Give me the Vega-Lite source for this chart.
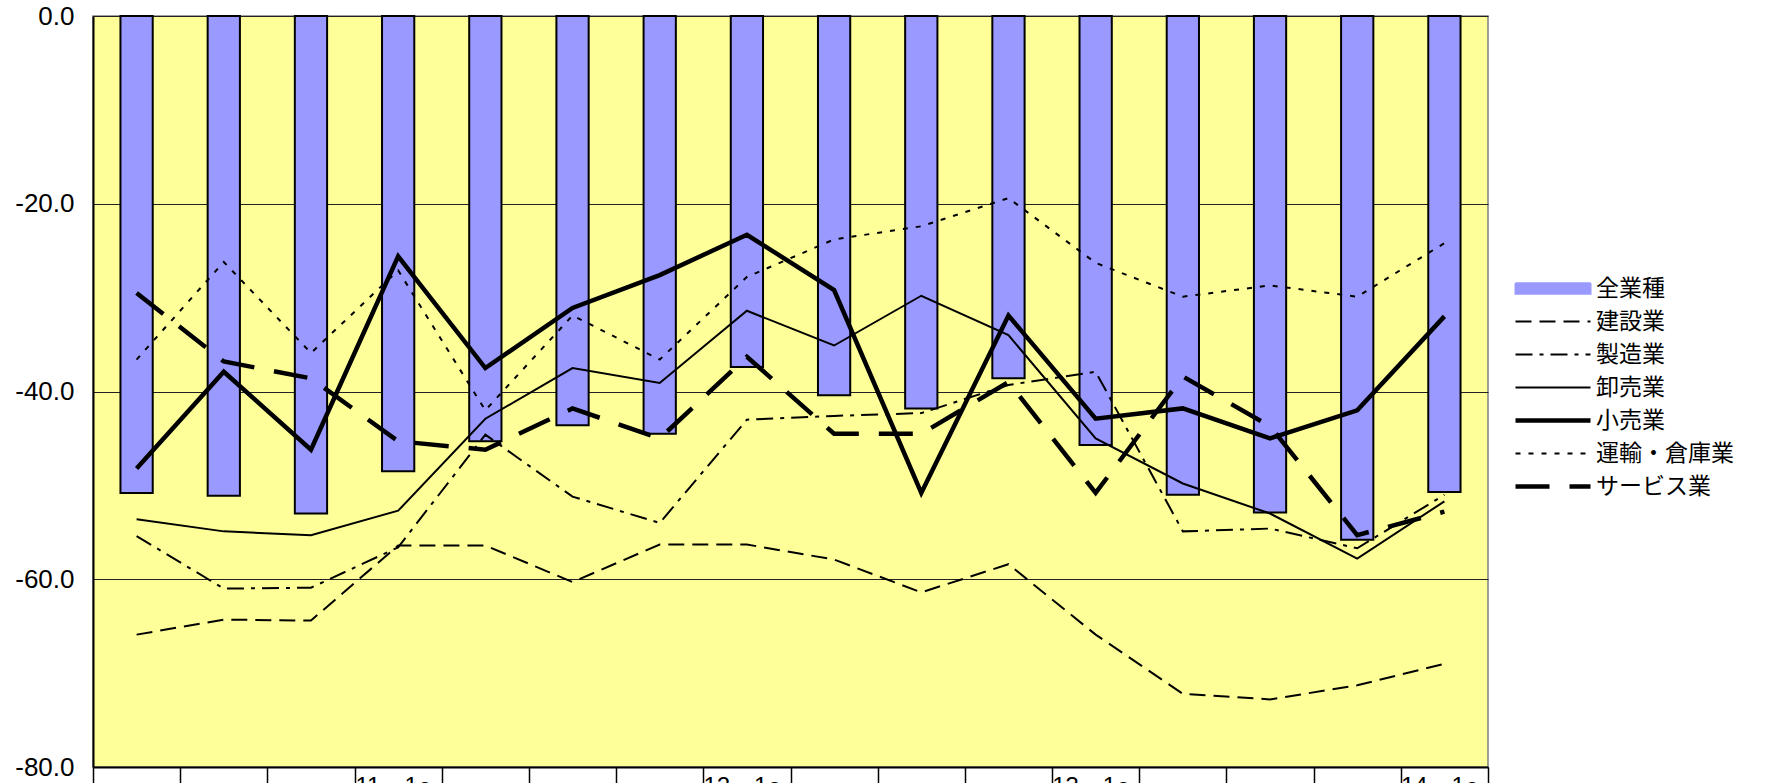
{
  "$schema": "https://vega.github.io/schema/vega-lite/v6.json",
  "autosize": {"type": "none"},
  "padding": {"left": 93, "top": 16, "right": 283, "bottom": 16},
  "width": 1395,
  "height": 751,
  "background": "white",
  "data": {
    "values": [
      {"period": "10・4～6", "全業種": -50.8, "建設業": -65.9, "製造業": -55.4, "卸売業": -53.6, "小売業": -48.2, "運輸・倉庫業": -36.6, "サービス業": -29.5},
      {"period": "10・7～9", "全業種": -51.1, "建設業": -64.3, "製造業": -61.0, "卸売業": -54.9, "小売業": -37.9, "運輸・倉庫業": -26.2, "サービス業": -36.8},
      {"period": "10・10～12", "全業種": -53.0, "建設業": -64.4, "製造業": -60.9, "卸売業": -55.3, "小売業": -46.2, "運輸・倉庫業": -35.9, "サービス業": -38.6},
      {"period": "11・1～3", "全業種": -48.5, "建設業": -56.4, "製造業": -56.6, "卸売業": -52.7, "小売業": -25.6, "運輸・倉庫業": -27.1, "サービス業": -45.3},
      {"period": "11・4～6", "全業種": -45.3, "建設業": -56.4, "製造業": -44.6, "卸売業": -42.9, "小売業": -37.5, "運輸・倉庫業": -42.0, "サービス業": -46.2},
      {"period": "11・7～9", "全業種": -43.6, "建設業": -60.3, "製造業": -51.2, "卸売業": -37.5, "小売業": -31.1, "運輸・倉庫業": -31.9, "サービス業": -41.8},
      {"period": "11・10～12", "全業種": -44.5, "建設業": -56.3, "製造業": -54.0, "卸売業": -39.1, "小売業": -27.6, "運輸・倉庫業": -36.6, "サービス業": -45.0},
      {"period": "12・1～3", "全業種": -37.4, "建設業": -56.3, "製造業": -43.0, "卸売業": -31.4, "小売業": -23.3, "運輸・倉庫業": -27.8, "サービス業": -36.3},
      {"period": "12・4～6", "全業種": -40.4, "建設業": -57.9, "製造業": -42.6, "卸売業": -35.1, "小売業": -29.2, "運輸・倉庫業": -23.8, "サービス業": -44.5},
      {"period": "12・7～9", "全業種": -41.8, "建設業": -61.4, "製造業": -42.3, "卸売業": -29.8, "小売業": -50.8, "運輸・倉庫業": -22.4, "サービス業": -44.5},
      {"period": "12・10～12", "全業種": -38.6, "建設業": -58.4, "製造業": -39.3, "卸売業": -34.0, "小売業": -31.9, "運輸・倉庫業": -19.4, "サービス業": -39.0},
      {"period": "13・1～3", "全業種": -45.7, "建設業": -65.9, "製造業": -37.9, "卸売業": -45.0, "小売業": -42.9, "運輸・倉庫業": -26.3, "サービス業": -50.8},
      {"period": "13・4～6", "全業種": -51.0, "建設業": -72.2, "製造業": -54.9, "卸売業": -49.8, "小売業": -41.8, "運輸・倉庫業": -29.9, "サービス業": -38.4},
      {"period": "13・7～9", "全業種": -52.9, "建設業": -72.8, "製造業": -54.6, "卸売業": -53.0, "小売業": -45.0, "運輸・倉庫業": -28.7, "サービス業": -43.7},
      {"period": "13・10～12", "全業種": -55.8, "建設業": -71.3, "製造業": -56.7, "卸売業": -57.8, "小売業": -42.0, "運輸・倉庫業": -29.9, "サービス業": -55.3},
      {"period": "14・1～3", "全業種": -50.7, "建設業": -69.0, "製造業": -51.0, "卸売業": -51.7, "小売業": -32.0, "運輸・倉庫業": -24.2, "サービス業": -52.8}
    ]
  },
  "transform": [
    {"fold": ["全業種", "建設業", "製造業", "卸売業", "小売業", "運輸・倉庫業", "サービス業"], "as": ["series", "value"]}
  ],
  "encoding": {
    "x": {
      "field": "period", "type": "nominal", "sort": null,
      "scale": {"paddingInner": 0, "paddingOuter": 0},
      "axis": {
        "title": null, "tickBand": "extent", "tickSize": 20, "tickColor": "#000", "tickWidth": 1.5,
        "domainColor": "#000", "domainWidth": 2, "labelAngle": 0, "labelOverlap": false,
        "labelExpr": "indexof('' + datum.value, '・1～') >= 0 ? split('' + datum.value, '～')[0] + '～' : ''",
        "labelFont": "Liberation Sans, Noto Sans CJK JP", "labelFontSize": 24, "labelColor": "#000",
        "labelPadding": -13, "labelBaseline": "top", "grid": false
      }
    },
    "y": {
      "field": "value", "type": "quantitative",
      "scale": {"domain": [-80, 0], "nice": false, "zero": false},
      "axis": {
        "title": null, "values": [-80, -60, -40, -20, 0], "grid": true, "gridColor": "#222", "gridWidth": 1,
        "domainColor": "#000", "domainWidth": 2, "ticks": false, "labelPadding": 19,
        "labelFont": "Liberation Sans", "labelFontSize": 26, "labelColor": "#000",
        "labelExpr": "replace(format(datum.value, '.1f'), '\u2212', '-')"
      }
    },
    "color": {
      "field": "series", "type": "nominal",
      "scale": {
        "domain": ["全業種", "建設業", "製造業", "卸売業", "小売業", "運輸・倉庫業", "サービス業"],
        "range": ["#9999FF", "#000", "#000", "#000", "#000", "#000", "#000"]
      },
      "legend": {
        "orient": "none", "legendX": 1416, "legendY": 261, "title": null, "padding": 0,
        "labelFont": "Noto Sans CJK JP", "labelFontSize": 23, "labelColor": "#000",
        "symbolSize": 100, "labelOffset": 64, "rowPadding": 9, "symbolOpacity": 1,
        "symbolStrokeColor": "#000", "symbolStrokeWidth": 2,
        "encode": {
          "symbols": {
            "update": {
              "shape": {"signal": "datum.value === '全業種' ? 'M-1,-1.05H14V1.05H-1Z' : 'M-1,0H14'"},
              "fill": {"signal": "datum.value === '全業種' ? '#9999FF' : 'transparent'"},
              "stroke": {"value": "#000"},
              "opacity": {"value": 1},
              "strokeWidth": {"signal": "(datum.value === '小売業' || datum.value === 'サービス業') ? 4.5 : 2"},
              "strokeDash": {"signal": "datum.value === '建設業' ? [16, 8] : datum.value === '製造業' ? [17, 7, 4, 7] : datum.value === '運輸・倉庫業' ? [5, 8] : datum.value === 'サービス業' ? [34, 20] : [1, 0]"}
            }
          }
        }
      }
    }
  },
  "layer": [
    {
      "transform": [{"filter": "datum.series === '全業種'"}],
      "mark": {"type": "bar", "width": {"band": 0.37}, "stroke": "#000", "strokeWidth": 2}
    },
    {
      "transform": [{"filter": "datum.series === '建設業'"}],
      "mark": {"type": "line", "strokeWidth": 2, "strokeDash": [16, 8]}
    },
    {
      "transform": [{"filter": "datum.series === '製造業'"}],
      "mark": {"type": "line", "strokeWidth": 2, "strokeDash": [17, 7, 4, 7]}
    },
    {
      "transform": [{"filter": "datum.series === '卸売業'"}],
      "mark": {"type": "line", "strokeWidth": 2}
    },
    {
      "transform": [{"filter": "datum.series === '運輸・倉庫業'"}],
      "mark": {"type": "line", "strokeWidth": 2, "strokeDash": [5, 8]}
    },
    {
      "transform": [{"filter": "datum.series === '小売業'"}],
      "mark": {"type": "line", "strokeWidth": 4.5}
    },
    {
      "transform": [{"filter": "datum.series === 'サービス業'"}],
      "mark": {"type": "line", "strokeWidth": 4.5, "strokeDash": [34, 20]}
    }
  ],
  "config": {
    "view": {"fill": "#FFFF99", "stroke": "#808080", "strokeWidth": 1.5}
  }
}
